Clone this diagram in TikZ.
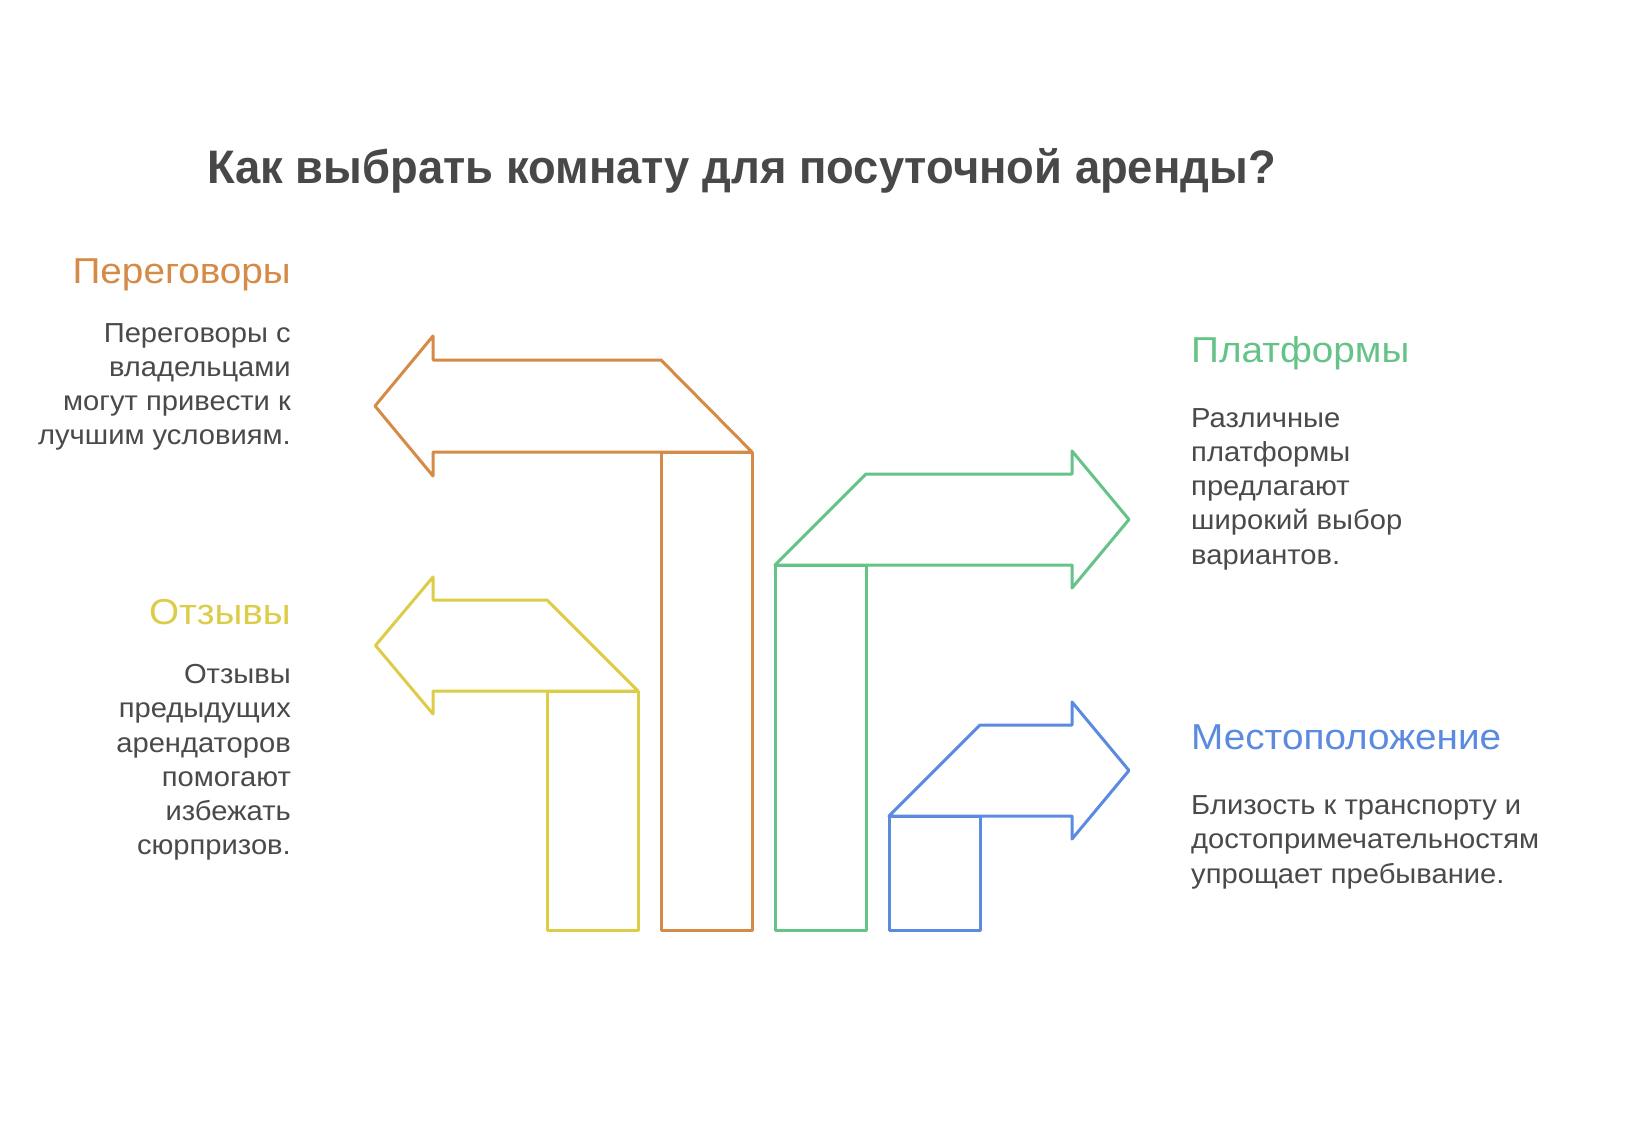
\documentclass[tikz,border=0pt]{standalone}
\usepackage{fontspec}
\setmainfont{Liberation Sans}
\newfontfamily\titlefont[FakeStretch=0.965]{Liberation Sans}
\newfontfamily\headfont[FakeStretch=1.075]{Liberation Sans}
\newfontfamily\bodyfont[FakeStretch=1.06]{Liberation Sans}
\definecolor{cOrange}{HTML}{D58A45}
\definecolor{cYellow}{HTML}{DDCC48}
\definecolor{cGreen}{HTML}{66C387}
\definecolor{cBlue}{HTML}{5B8BE1}
\definecolor{cText}{HTML}{4A4A4A}
\definecolor{cTitle}{HTML}{484848}
\tikzset{
  shapeline/.style={line width=3pt, line join=round, fill=white},
  titletext/.style={font=\titlefont\fontsize{47}{50}\selectfont\bfseries, text=cTitle, inner sep=0pt},
  headtext/.style={font=\headfont\fontsize{36}{40}\selectfont, inner sep=0pt},
  bodytext/.style={font=\bodyfont\fontsize{27.5}{34.2}\selectfont, text=cText, inner sep=0pt},
}
\newcommand{\firstline}{\rule{0pt}{22pt}}
\begin{document}
\begin{tikzpicture}[x=1pt,y=-1pt]
\useasboundingbox[fill=white] (0,0) rectangle (1638,1142);

% Orange arrow (left)
\draw[shapeline, draw=cOrange] (661,452) rectangle (752,930);
\draw[shapeline, draw=cOrange] (433,452) -- (433,476) -- (375,406) -- (433,336) -- (433,360) -- (661,360) -- (752,452) -- cycle;
\draw[draw=cOrange, line width=3pt] (661,452) -- (752,452);

% Yellow arrow (left)
\draw[shapeline, draw=cYellow] (547,691) rectangle (638,930);
\draw[shapeline, draw=cYellow] (433,691) -- (433,714) -- (375.5,645.5) -- (433,577) -- (433,600) -- (547,600) -- (638,691) -- cycle;

% Green arrow (right)
\draw[shapeline, draw=cGreen] (775,565) rectangle (866,930);
\draw[shapeline, draw=cGreen] (775,565) -- (866,474) -- (1072,474) -- (1072,451) -- (1129,519.5) -- (1072,588) -- (1072,565) -- cycle;

% Blue arrow (right)
\draw[shapeline, draw=cBlue] (889,816) rectangle (980,930);
\draw[shapeline, draw=cBlue] (889,816) -- (980,725) -- (1072,725) -- (1072,702) -- (1129,770.5) -- (1072,839) -- (1072,816) -- cycle;

% Title
\node[titletext, anchor=base west] (title) at (207,183.5) {Как выбрать комнату для посуточной аренды?};

% Left texts
\node[headtext, text=cOrange, anchor=base east] (h1) at (291,283) {Переговоры};
\node[bodytext, anchor=north east, align=right] (b1) at (291,320) {\firstline Переговоры с\\владельцами\\могут привести к\\лучшим условиям.};

\node[headtext, text=cYellow, anchor=base east] (h2) at (291,624) {Отзывы};
\node[bodytext, anchor=north east, align=right] (b2) at (291,661.5) {\firstline Отзывы\\предыдущих\\арендаторов\\помогают\\избежать\\сюрпризов.};

% Right texts
\node[headtext, text=cGreen, anchor=base west] (h3) at (1191,362) {Платформы};
\node[bodytext, anchor=north west, align=left] (b3) at (1191,405) {\firstline Различные\\платформы\\предлагают\\широкий выбор\\вариантов.};

\node[headtext, text=cBlue, anchor=base west] (h4) at (1191,749.5) {Местоположение};
\node[bodytext, anchor=north west, align=left] (b4) at (1191,792.5) {\firstline Близость к транспорту и\\достопримечательностям\\упрощает пребывание.};
\end{tikzpicture}
\end{document}
